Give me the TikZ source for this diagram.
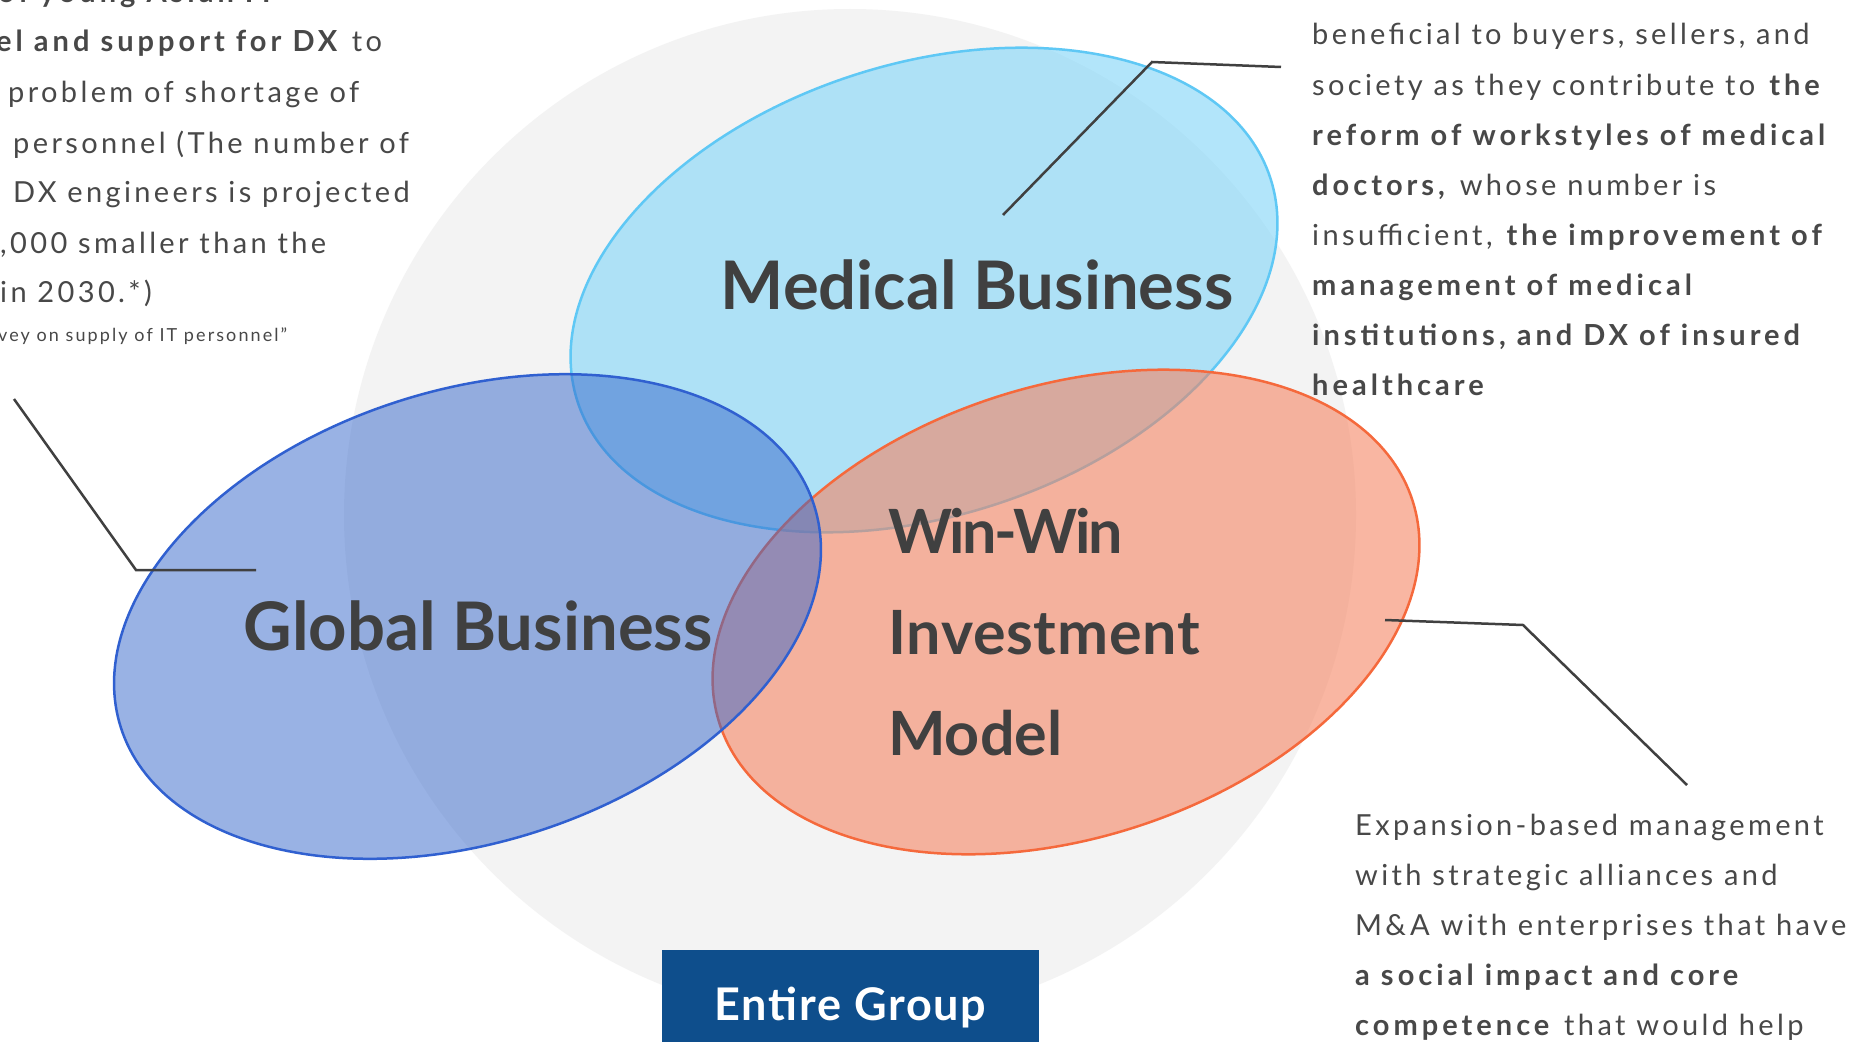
\documentclass[tikz,border=0pt]{standalone}
\usepackage{fontspec}
\setmainfont{Lato}
\newfontfamily\bodyf[LetterSpace=11.6, BoldFeatures={LetterSpace=13.8}]{Lato}
\newfontfamily\titlef{Lato}
\newfontfamily\wintightf[LetterSpace=-4]{Lato}
\newfontfamily\winwidef[LetterSpace=1.2]{Lato}
\newfontfamily\boxf[LetterSpace=4]{Lato}
\definecolor{graycirc}{RGB}{243,243,243}
\definecolor{medfill}{RGB}{128,213,248}
\definecolor{meddraw}{RGB}{95,200,245}
\definecolor{glofill}{RGB}{53,103,203}
\definecolor{glodraw}{RGB}{48,96,208}
\definecolor{orafill}{RGB}{245,130,95}
\definecolor{oradraw}{RGB}{245,105,60}
\definecolor{txtgray}{RGB}{72,72,72}
\definecolor{titlegray}{RGB}{64,64,64}
\definecolor{linegray}{RGB}{64,64,64}
\definecolor{boxblue}{RGB}{14,78,140}
\tikzset{
  bodytxt/.style={anchor=base west, inner sep=0pt, text=txtgray, font=\bodyf\fontsize{29}{34}\selectfont},
  smalltxt/.style={anchor=base west, inner sep=0pt, text=txtgray, font=\bodyf\fontsize{18}{22}\selectfont},
  titletxt/.style={anchor=base, inner sep=0pt, text=titlegray, font=\titlef\bfseries\fontsize{67}{80}\selectfont},
  wintxt/.style={anchor=base west, inner sep=0pt, text=titlegray, font=\titlef\bfseries\fontsize{61}{70}\selectfont},
  leader/.style={draw=linegray, line width=2.5pt, line join=miter},
  bubble/.style={line width=2.5pt},
}
\begin{document}
\begin{tikzpicture}[x=1pt, y=-1pt]
\useasboundingbox (0,0) rectangle (1849,1041);
\clip (0,0) rectangle (1849,1041);
\fill[white] (0,0) rectangle (1849,1041);
% big gray circle
\fill[graycirc] (850,515) circle [radius=506];
% three ellipses
\path[bubble, fill=medfill, fill opacity=0.6, draw=meddraw] (924,290) ellipse [x radius=364, y radius=226, rotate=17.8];
\path[bubble, fill=orafill, fill opacity=0.58, draw=oradraw] (1066,612) ellipse [x radius=364, y radius=226, rotate=17.8];
\path[bubble, fill=glofill, fill opacity=0.5, draw=glodraw] (467.5,616.5) ellipse [x radius=364, y radius=226, rotate=17.8];
% titles
\node[titletxt] (med) at (977,309) {Medical Business};
\node[titletxt] (glo) at (478,650) {Global Business};
\node[wintxt] (win1) at (888,553) {\wintightf\bfseries Win-Win};
\node[wintxt] (win2) at (888,654) {\winwidef\bfseries Investment};
\node[wintxt] (win3) at (888,755) {Model};
% entire group box
\node[fill=boxblue, minimum width=377pt, minimum height=116pt, inner sep=0pt, text=white, font=\boxf\bfseries\fontsize{45}{50}\selectfont] (eg) at (850.5,1008) {Entire Group};
% leader lines
\coordinate (gl1) at (14,399);
\coordinate (gl2) at (136,570);
\coordinate (gl3) at (256,570);
\draw[leader] (gl1) -- (gl2) -- (gl3);
\coordinate (ml1) at (1003,215);
\coordinate (ml2) at (1152,62);
\coordinate (ml3) at (1281,67);
\draw[leader] (ml1) -- (ml2) -- (ml3);
\coordinate (ol1) at (1385,620);
\coordinate (ol2) at (1523,625);
\coordinate (ol3) at (1687,785);
\draw[leader] (ol1) -- (ol2) -- (ol3);
% left text block (clipped at the left)
\node[bodytxt] (l0) at (-2,3) {\textbf{of young Asian IT}};
\node[bodytxt] (l1) at (-4,52) {\textbf{el and support for DX} to};
\node[bodytxt] (l2) at (8,102) {problem of shortage of};
\node[bodytxt] (l3) at (13,153) {personnel (The number of};
\node[bodytxt] (l4) at (13,202) {DX engineers is projected};
\node[bodytxt] (l5) at (0,253) {,000 smaller than the};
\node[bodytxt] (l6) at (0,302) {in 2030.*)};
\node[smalltxt] (l7) at (-2,341) {vey on supply of IT personnel”};
% right text block
\node[bodytxt] (r1) at (1312,45) {beneficial to buyers, sellers, and};
\node[bodytxt] (r2) at (1312,95) {society as they contribute to \textbf{the}};
\node[bodytxt] (r3) at (1312,145) {\textbf{reform of workstyles of medical}};
\node[bodytxt] (r4) at (1312,195) {\textbf{doctors,} whose number is};
\node[bodytxt] (r5) at (1312,245) {insufficient, \textbf{the improvement of}};
\node[bodytxt] (r6) at (1312,295) {\textbf{management of medical}};
\node[bodytxt] (r7) at (1312,345) {\textbf{institutions, and DX of insured}};
\node[bodytxt] (r8) at (1312,395) {\textbf{healthcare}};
% bottom right text block
\node[bodytxt] (b1) at (1355,835) {Expansion-based management};
\node[bodytxt] (b2) at (1355,885) {with strategic alliances and};
\node[bodytxt] (b3) at (1355,935) {M\&A with enterprises that have};
\node[bodytxt] (b4) at (1355,985) {\textbf{a social impact and core}};
\node[bodytxt] (b5) at (1355,1035) {\textbf{competence} that would help};
\end{tikzpicture}
\end{document}
